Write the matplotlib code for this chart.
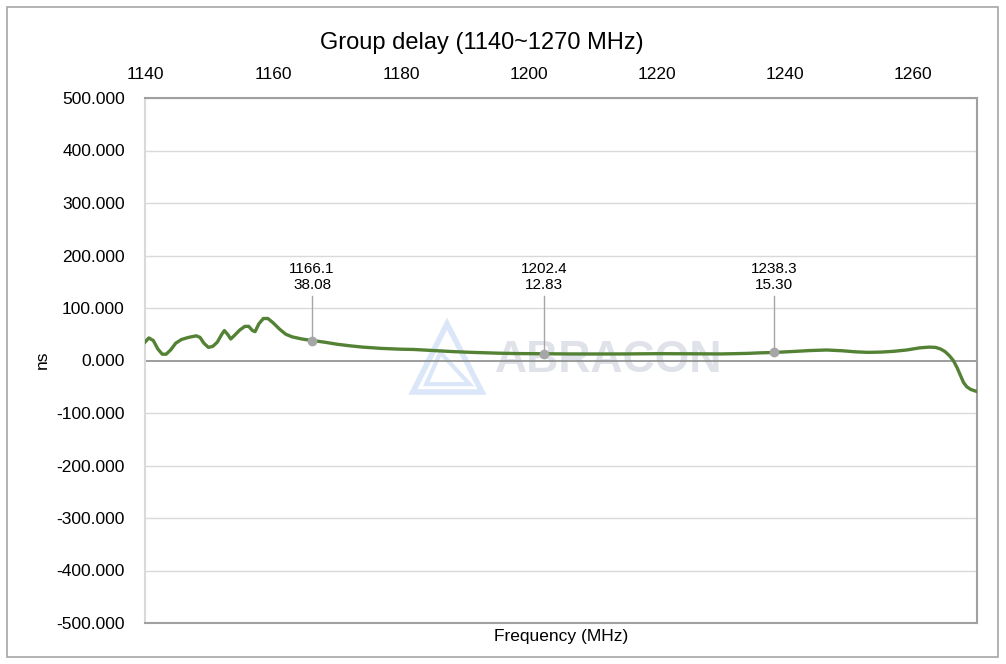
import matplotlib.pyplot as plt
from matplotlib.patches import Rectangle, Polygon

plt.rcParams['font.family'] = ['Liberation Sans', 'DejaVu Sans']

# group delay curve (MHz, ns)
freq = [1140.0, 1140.6, 1141.3, 1142.0, 1142.7, 1143.3, 1144.0, 1144.8, 1145.7, 1146.8,
        1148.0, 1148.6, 1149.2, 1149.9, 1150.6, 1151.3, 1152.0, 1152.4, 1152.9, 1153.4,
        1154.0, 1154.8, 1155.6, 1156.2, 1156.8, 1157.2, 1157.8, 1158.5, 1159.2, 1160.0,
        1161.0, 1162.0, 1163.0, 1164.5, 1166.1, 1168.0, 1170.0, 1172.0, 1174.0, 1177.0,
        1180.0, 1182.0, 1185.0, 1188.0, 1191.0, 1195.0, 1198.0, 1202.4, 1206.0, 1210.0,
        1215.0, 1220.0, 1225.0, 1230.0, 1234.0, 1236.0, 1238.3, 1241.0, 1244.0, 1246.5,
        1249.0, 1251.0, 1253.0, 1255.0, 1257.0, 1259.0, 1261.0, 1262.5, 1263.5, 1264.3,
        1265.0, 1265.7, 1266.3, 1266.9, 1267.4, 1267.9, 1268.4, 1269.0, 1269.7, 1270.0]
delay = [35, 43, 38, 22, 12, 12, 20, 33, 40, 44,
         47, 44, 33, 25, 27, 35, 50, 57, 50, 41,
         48, 58, 65, 65, 57, 55, 70, 80, 80, 72,
         60, 50, 45, 41, 38.08, 35, 31, 28, 25.5, 23,
         21.5, 21, 19, 17, 15.5, 14, 13.2, 12.83, 12.5, 12.4,
         12.5, 13, 12.8, 12.5, 13.5, 14.5, 15.3, 17, 19, 20,
         18.5, 16.5, 15.5, 16, 17.5, 20, 24, 25.5, 25, 22,
         17, 9, 0, -14, -28, -42, -50, -55, -58, -59]

# marker points
mark_freq = [1166.1, 1202.4, 1238.3]
mark_delay = [38.08, 12.83, 15.30]

xticks = [1140, 1160, 1180, 1200, 1220, 1240, 1260]
yticks = list(range(-500, 501, 100))

fig = plt.figure(figsize=(10.06, 6.64), dpi=100)
ax = fig.add_axes([145 / 1006, 1 - 623 / 664, 832 / 1006, 525 / 664])

fig.patches.append(Rectangle((7 / 1006, 7 / 664), 991 / 1006, 650 / 664,
                             transform=fig.transFigure, fill=False,
                             edgecolor='#a6a6a6', linewidth=1.2))

# watermark
ax.add_patch(Polygon([[0.363, 0.57], [0.322, 0.44], [0.405, 0.44]], closed=True,
                     fill=False, edgecolor='#dbe7f8', linewidth=4,
                     transform=ax.transAxes, zorder=0))
ax.add_patch(Polygon([[0.355, 0.515], [0.338, 0.455], [0.39, 0.455]], closed=True,
                     fill=False, edgecolor='#dbe7f8', linewidth=3,
                     transform=ax.transAxes, zorder=0))
ax.text(0.421, 0.5, 'ABRACON', transform=ax.transAxes, fontsize=32,
        fontweight='bold', color='#e0e2ea', ha='left', va='center', zorder=0)

for y in yticks:
    if y != 0:
        ax.axhline(y, color='#d9d9d9', linewidth=1, zorder=1)
ax.axhline(0, color='#8c8c8c', linewidth=1.2, zorder=2)

ax.plot(freq, delay, color='#548235', linewidth=2.4, zorder=3)

for fx, fy in zip(mark_freq, mark_delay):
    ax.plot([fx, fx], [fy, 122], color='#a6a6a6', linewidth=1, zorder=4)
    ax.plot(fx, fy, 'o', color='#a6a6a6', markersize=6, zorder=5)
    ax.text(fx, 130, f'{fx:.1f}\n{fy:.2f}', ha='center', va='bottom',
            fontsize=11, color='#000000', linespacing=1.2, zorder=5)

ax.set_xlim(1140, 1270)
ax.set_ylim(-500, 500)
ax.xaxis.tick_top()
ax.set_xticks(xticks)
ax.set_yticks(yticks)
ax.set_yticklabels([f'{v:.3f}' for v in yticks])
ax.tick_params(axis='both', length=0, labelsize=12.5, colors='#000000')
ax.tick_params(axis='x', pad=11.5)
ax.tick_params(axis='y', pad=14.5)

ax.spines['top'].set_color('#a0a0a0')
ax.spines['right'].set_color('#a0a0a0')
ax.spines['bottom'].set_color('#a0a0a0')
ax.spines['left'].set_color('#d9d9d9')
for s in ax.spines.values():
    s.set_linewidth(1.5)

fig.text(561 / 1006, 1 - 636 / 664, 'Frequency (MHz)', ha='center', va='center', fontsize=12.5)
fig.text(42 / 1006, 1 - 360 / 664, 'ns', ha='center', va='center', rotation=90, fontsize=12.5)
fig.text(482 / 1006, 1 - 43 / 664, 'Group delay (1140~1270 MHz)', ha='center', va='center', fontsize=17)

fig.savefig('out.png', dpi=100)
